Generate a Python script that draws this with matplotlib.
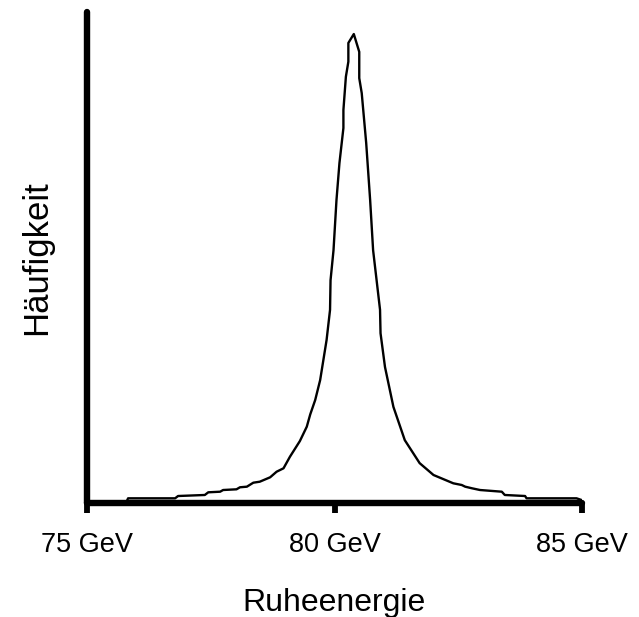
import matplotlib
matplotlib.use("Agg")
import matplotlib.pyplot as plt

# Data (energy in GeV, relative frequency, peak = 100)
energy = [75.80, 75.83, 76.78, 76.84, 77.38, 77.45, 77.69, 77.75, 78.02, 78.09,
          78.23, 78.36, 78.49, 78.70, 78.83, 78.97, 79.10, 79.30, 79.44, 79.51,
          79.61, 79.71, 79.84, 79.91, 79.92, 79.98, 80.04, 80.10, 80.18, 80.18,
          80.23, 80.28, 80.28, 80.39,
          80.50, 80.50, 80.55, 80.64, 80.72, 80.78, 80.92, 80.93, 81.02, 81.19,
          81.42, 81.72, 82.00, 82.40, 82.57, 82.64, 82.78, 82.94, 83.38, 83.44,
          83.85, 83.88, 84.89, 84.99]
frequency = [0.3, 1.0, 1.0, 1.49, 1.71, 2.28, 2.41, 2.77, 2.92, 3.35,
             3.48, 4.33, 4.54, 5.48, 6.67, 7.40, 9.87, 13.2, 16.27, 18.9,
             21.96, 26.2, 34.75, 41.2, 47.5, 53.9, 64.6, 72.49, 79.96, 83.8,
             90.9, 94.1, 98.1, 100.0,
             96.2, 90.6, 87.4, 76.8, 64.6, 53.9, 41.2, 36.2, 29.0, 20.5,
             13.4, 8.5, 5.97, 4.20, 3.84, 3.48, 3.13, 2.77, 2.41, 1.71,
             1.49, 1.0, 1.0, 0.64]

tick_values = [75, 80, 85]
tick_labels = ["75 GeV", "80 GeV", "85 GeV"]

plt.rcParams['font.family'] = ['Liberation Sans', 'DejaVu Sans']

fig = plt.figure(figsize=(6.39, 6.17), dpi=100)
ax = fig.add_axes([87/639, (617-503)/617, (582-87)/639, (503-12)/617])

ax.plot(energy, frequency, color='black', lw=1.7, solid_joinstyle='round', zorder=2)

ax.set_xlim(75, 85)
ax.set_ylim(0, 104.7)

for s in ['top', 'right']:
    ax.spines[s].set_visible(False)
for s in ['left', 'bottom']:
    ax.spines[s].set_linewidth(4.6)
    ax.spines[s].set_capstyle('round')
    ax.spines[s].set_color('black')
    ax.spines[s].set_zorder(3)

ax.set_yticks([])
ax.set_xticks(tick_values)
ax.set_xticklabels(tick_labels, fontsize=19.5)
ax.tick_params(axis='x', direction='out', length=7, width=4.2, pad=14, colors='black')

fig.text(334/639, (617-611.5)/617, "Ruheenergie", ha='center', va='baseline', fontsize=23)
fig.text(37/639, 1-258/617, "Häufigkeit", ha='center', va='center', rotation=90, fontsize=25)

fig.savefig("out.png", dpi=100)
